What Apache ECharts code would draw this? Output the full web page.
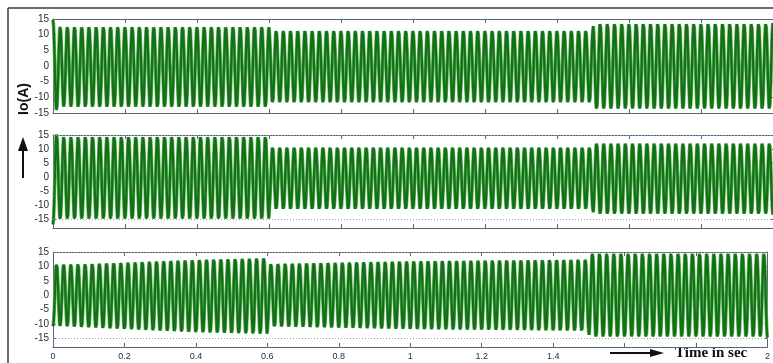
<!DOCTYPE html>
<html><head><meta charset="utf-8">
<script src="https://cdn.jsdelivr.net/npm/echarts@6/dist/echarts.min.js"></script>
<style>html,body{margin:0;padding:0;background:#fff}#c{width:773px;height:363px}</style>
</head><body><div id="c"></div>
<script>
// Values
const xTickLabels = ['0','0.2','0.4','0.6','0.8','1','1.2','1.4','','','2'];
const yTickValues = [-15,-10,-5,0,5,10,15];
const freqHz = 50;               // supply frequency (cycles counted in picture)
// Envelope (peak current, A) breakpoints per panel
const env1T = [0, 0.02, 0.6, 0.601, 1.5, 1.501, 2.0];
const env1A = [15, 13.0, 13.0, 11.6, 11.6, 13.8, 13.8];
const env1Off = [-0.3, -0.3, -0.3, -0.2, -0.2, -0.1, -0.1];
const env2T = [0, 0.02, 0.6, 0.601, 1.5, 1.501, 2.0];
const env2A = [16.5, 14.8, 14.8, 11.1, 11.1, 12.7, 12.7];
const env2Off = [-0.2, -0.2, -0.2, -0.35, -0.35, -0.5, -0.5];
const env3T = [0, 0.1, 0.4, 0.6, 0.601, 1.0, 1.5, 1.501, 2.0];
const env3A = [10.8, 11.2, 12.8, 13.4, 11.0, 12.0, 12.6, 14.7, 14.7];
const env3Off = [0, -0.2, -0.3, -0.3, 0, 0, 0, 0, 0];
const startPhase = [0, Math.PI, Math.PI];

function interp(T, V, t){
  for (let i=1;i<T.length;i++){ if (t<=T[i]){ const f=(t-T[i-1])/(T[i]-T[i-1]); return V[i-1]+f*(V[i]-V[i-1]); } }
  return V[V.length-1];
}
function wave(T, A, O, ph){
  const out=[]; const n=freqHz*2*28;
  for (let i=0;i<=n;i++){ const t=i*2/n; out.push([t, interp(T,O,t)+interp(T,A,t)*Math.cos(2*Math.PI*freqHz*t+ph)]); }
  return out;
}
const d1 = wave(env1T, env1A, env1Off, startPhase[0]);
const d2 = wave(env2T, env2A, env2Off, startPhase[1]);
const d3 = wave(env3T, env3A, env3Off, startPhase[2]);

const axisCol = '#5a6478', labCol = '#2a2e3a';
const grids = [
  {left:53, width:723, top:19, height:94},
  {left:53, width:723, top:135, height:93},
  {left:53, width:723, top:252, height:95}
];
const yMin = [-15, -18, -18];
const xAxes = [], yAxes = [], series = [];
grids.forEach((g,i)=>{
  const showLab = i===2;
  xAxes.push({type:'value', gridIndex:i, min:0, max:2, interval:0.2, position:'bottom',
    axisLine:{onZero:false, lineStyle:{color:axisCol, width:1}},
    axisTick:{show:true, inside:true, length:4, lineStyle:{color:axisCol}},
    axisLabel:{show:showLab, color:labCol, fontSize:9, fontFamily:'Liberation Sans, Arial', margin:5,
      formatter:(v)=>{ const k=Math.round(v/0.2); return xTickLabels[k]!==undefined?xTickLabels[k]:''; }},
    splitLine:{show:false}});
  xAxes.push({type:'value', gridIndex:i, min:0, max:2, interval:0.2, position:'top',
    axisLine:{onZero:false, lineStyle:{color:axisCol, width:1}},
    axisTick:{show:true, inside:true, length:4, lineStyle:{color:axisCol}},
    axisLabel:{show:false}, splitLine:{show:false}});
  yAxes.push({type:'value', gridIndex:i, min:yMin[i], max:15, position:'left',
    axisLine:{onZero:false, show:true, lineStyle:{color:axisCol, width:1}},
    axisTick:{show:true, inside:true, length:3, customValues:yTickValues, lineStyle:{color:axisCol}},
    axisLabel:{color:labCol, fontSize:10, fontFamily:'Liberation Sans, Arial', margin:4, customValues:yTickValues},
    splitLine:{show:false}});
  yAxes.push({type:'value', gridIndex:i, min:yMin[i], max:15, position:'right',
    axisLine:{onZero:false, show:true, lineStyle:{color:axisCol, width:1}},
    axisTick:{show:true, inside:true, length:3, customValues:yTickValues, lineStyle:{color:axisCol}},
    axisLabel:{show:false}, splitLine:{show:false}});
});
const datas=[d1,d2,d3];
datas.forEach((d,i)=>{
  series.push({type:'line', xAxisIndex:2*i, yAxisIndex:2*i, data:d, showSymbol:false, symbol:'none',
    animation:false, sampling:null, silent:true, clip:true, z:2,
    lineStyle:{color:'#66bb66', width:3.6},
    markLine: i>0 ? {silent:true, symbol:'none', label:{show:false}, lineStyle:{color:'#9aa0b0', type:[1,2], width:1},
      data:[{yAxis:-15},{yAxis:15}]} : undefined
  });
  series.push({type:'line', xAxisIndex:2*i, yAxisIndex:2*i, data:d, showSymbol:false, symbol:'none',
    animation:false, sampling:null, silent:true, clip:true, z:3,
    lineStyle:{color:'#137015', width:2.3}
  });
});

const chart = echarts.init(document.getElementById('c'), null, {renderer:'canvas'});
chart.setOption({
  animation:false,
  backgroundColor:'#ffffff',
  grid:grids, xAxis:xAxes, yAxis:yAxes, series:series,
  graphic:[
    {type:'line', shape:{x1:8,y1:8,x2:773,y2:8}, style:{stroke:'#3a3a3a', lineWidth:1.5}, z:100},
    {type:'line', shape:{x1:8,y1:8,x2:8,y2:363}, style:{stroke:'#3a3a3a', lineWidth:1.5}, z:100},
    {type:'text', x:24, y:99, rotation:Math.PI/2, style:{text:'Io(A)', font:'bold 14px "Liberation Sans", Arial', fill:'#111', textAlign:'center', textVerticalAlign:'middle'}},
    {type:'line', shape:{x1:23,y1:178,x2:23,y2:148}, style:{stroke:'#111', lineWidth:2}},
    {type:'polygon', shape:{points:[[23,137],[18,151],[28,151]]}, style:{fill:'#111'}},
    {type:'line', shape:{x1:610,y1:353,x2:652,y2:353}, style:{stroke:'#111', lineWidth:2}},
    {type:'polygon', shape:{points:[[664,353],[650,349],[650,357]]}, style:{fill:'#111'}},
    {type:'text', x:675, y:353, style:{text:'Time in sec', font:'bold 15px "Liberation Serif", "Times New Roman", serif', fill:'#111', textAlign:'left', textVerticalAlign:'middle'}}
  ]
});
</script></body></html>
